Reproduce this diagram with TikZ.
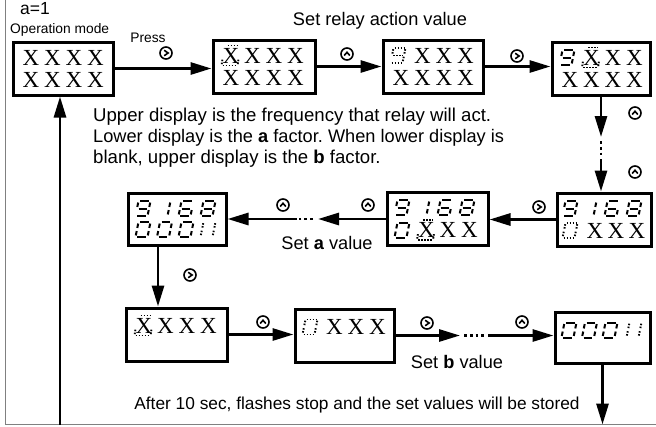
\documentclass[tikz,border=0pt]{standalone}
\usepackage{fontspec}
\setmainfont{Liberation Sans}
\newfontfamily\serifX{Liberation Serif}
\usetikzlibrary{arrows.meta}
\frenchspacing
\newcount\xn
\newcommand\Xc[2]{\global\advance\xn by 1\relax
  \node[xch] (xc\the\xn) at (#1,#2) {X};}
% seven segment digit: x, y, style, list macro of corner pairs
\newcommand\sevseg[4]{%
\begin{scope}[shift={(#1,#2)},xslant=0.2]
\coordinate (q1) at (-6,-7.5);\coordinate (q2) at (6,-7.5);
\coordinate (q3) at (-6,0);\coordinate (q4) at (6,0);
\coordinate (q5) at (-6,7.5);\coordinate (q6) at (6,7.5);
\foreach \u/\v in #4 {\draw[#3] (q\u) -- (q\v);}
\end{scope}}
\def\dZero{1/2,2/4,4/6,5/6,3/5,1/3}
\def\dOne{2/4,4/6}
\def\dSix{1/2,1/3,3/4,3/5,5/6,4/6}
\def\dEight{1/2,2/4,4/6,5/6,3/5,1/3,3/4}
\def\dNine{1/2,2/4,4/6,5/6,1/3,3/4}
\def\dFOne{1/3,3/5,2/4,4/6}
\def\dFX{1/2,3/5,4/6,5/6}
\newcommand\FXc[2]{%
\begin{scope}[shift={(#1,#2)},xslant=0.15]
\coordinate (p1) at (-6,-10);\coordinate (p2) at (6,-10);
\coordinate (p3) at (-8,3);\coordinate (p4) at (8,3);
\coordinate (p5) at (-8,10);\coordinate (p6) at (8,10);
\foreach \u/\v in \dFX {\draw[fseg] (p\u) -- (p\v);}
\end{scope}
\Xc{#1}{#2}}
\begin{document}
\begin{tikzpicture}[x=1pt,y=-1pt,
  dbox/.style={draw,line width=3pt,minimum height=53pt,inner sep=0pt},
  arr/.style={line width=2.9pt,-{Triangle[length=21pt,width=12pt]}},
  dotl/.style={line width=2.9pt,dash pattern=on 2.8pt off 3pt},
  seg/.style={line width=2pt,shorten <=1.6pt,shorten >=1.6pt},
  fseg/.style={line width=1.9pt,dash pattern=on 1.5pt off 1.5pt,shorten <=1.2pt,shorten >=1.2pt},
  xch/.style={font=\serifX\fontsize{23}{23}\selectfont,inner sep=0pt},
  lbl/.style={font=\fontsize{18.2}{21}\selectfont,inner sep=0pt},
  par/.style={font=\fontsize{18.6}{21}\selectfont,inner sep=0pt},
  sml/.style={font=\fontsize{13.8}{14}\selectfont,inner sep=0pt},
  btn/.style={circle,draw,line width=1.6pt,minimum size=12pt,inner sep=0pt},
  btnR/.style={btn,path picture={\draw[line width=1.6pt]
    ([xshift=-1.8pt,yshift=2.7pt]path picture bounding box.center) --
    ([xshift=2.1pt]path picture bounding box.center) --
    ([xshift=-1.8pt,yshift=-2.7pt]path picture bounding box.center);}},
  btnU/.style={btn,path picture={\draw[line width=1.6pt]
    ([xshift=-2.8pt,yshift=-1.5pt]path picture bounding box.center) --
    ([yshift=1.7pt]path picture bounding box.center) --
    ([xshift=2.8pt,yshift=-1.5pt]path picture bounding box.center);}}
]
\useasboundingbox (0,0) rectangle (656,426);
% frame
\draw[gray,line width=0.9pt] (5.5,0) -- (5.5,424.5) -- (656,424.5);

% boxes
\node[dbox,minimum width=100pt] (b1) at (63,68.5) {};
\node[dbox,minimum width=102pt] (b2) at (264,66.5) {};
\node[dbox,minimum width=100pt] (b3) at (433,66.5) {};
\node[dbox,minimum width=98pt] (b4) at (601,68.5) {};
\node[dbox,minimum width=94pt] (b5) at (604,219.5) {};
\node[dbox,minimum width=101pt] (b6) at (437.5,219) {};
\node[dbox,minimum width=98pt,minimum height=52pt] (b7) at (177,219) {};
\node[dbox,minimum width=101pt] (b8) at (176.5,334.5) {};
\node[dbox,minimum width=99pt] (b9) at (344.5,335.5) {};
\node[dbox,minimum width=95pt,minimum height=51pt] (b10) at (602.5,337.5) {};

% box 1
\begin{scope}[shift={(13,42)}]
\Xc{18}{15.5}\Xc{39.5}{15.5}\Xc{61}{15.5}\Xc{82.5}{15.5}
\Xc{18}{37.5}\Xc{39.5}{37.5}\Xc{61}{37.5}\Xc{82.5}{37.5}
\end{scope}
% box 2
\begin{scope}[shift={(213,40)}]
\FXc{18}{15.5}\Xc{39.5}{15.5}\Xc{61}{15.5}\Xc{82.5}{15.5}
\Xc{18}{37.5}\Xc{39.5}{37.5}\Xc{61}{37.5}\Xc{82.5}{37.5}
\end{scope}
% box 3
\begin{scope}[shift={(383,40)}]
\sevseg{15}{15.5}{fseg}{\dNine}
\Xc{39.5}{15.5}\Xc{61}{15.5}\Xc{82.5}{15.5}
\Xc{18}{37.5}\Xc{39.5}{37.5}\Xc{61}{37.5}\Xc{82.5}{37.5}
\end{scope}
% box 4
\begin{scope}[shift={(552,42)}]
\sevseg{15}{15.5}{seg}{\dNine}
\FXc{39.5}{15.5}\Xc{61}{15.5}\Xc{82.5}{15.5}
\Xc{18}{37.5}\Xc{39.5}{37.5}\Xc{61}{37.5}\Xc{82.5}{37.5}
\end{scope}
% box 5
\begin{scope}[shift={(557,193)}]
\sevseg{13}{15.5}{seg}{\dNine}\sevseg{32}{15.5}{seg}{\dOne}
\sevseg{55}{15.5}{seg}{\dSix}\sevseg{77}{15.5}{seg}{\dEight}
\sevseg{13}{37.5}{fseg}{\dZero}
\Xc{38}{37.5}\Xc{59}{37.5}\Xc{80}{37.5}
\end{scope}
% box 6
\begin{scope}[shift={(387,192)}]
\sevseg{15}{15.5}{seg}{\dNine}\sevseg{35}{15.5}{seg}{\dOne}
\sevseg{58}{15.5}{seg}{\dSix}\sevseg{80}{15.5}{seg}{\dEight}
\sevseg{15}{38}{seg}{\dZero}
\FXc{39.5}{38}\Xc{61}{38}\Xc{82.5}{38}
\end{scope}
% box 7
\begin{scope}[shift={(128,193)}]
\sevseg{15}{15.5}{seg}{\dNine}\sevseg{35}{15.5}{seg}{\dOne}
\sevseg{58}{15.5}{seg}{\dSix}\sevseg{80}{15.5}{seg}{\dEight}
\sevseg{15}{36.5}{seg}{\dZero}\sevseg{36.5}{36.5}{seg}{\dZero}
\sevseg{58}{36.5}{seg}{\dZero}
\sevseg{80}{36.5}{fseg}{\dFOne}
\end{scope}
% box 8
\begin{scope}[shift={(126,308)}]
\FXc{18}{17.5}\Xc{39.5}{17.5}\Xc{61}{17.5}\Xc{82.5}{17.5}
\end{scope}
% box 9
\begin{scope}[shift={(295,309)}]
\sevseg{15}{18}{fseg}{\dZero}
\Xc{39.5}{18}\Xc{61}{18}\Xc{82.5}{18}
\end{scope}
% box 10
\begin{scope}[shift={(555,312)}]
\sevseg{14}{18}{seg}{\dZero}\sevseg{34.5}{18}{seg}{\dZero}
\sevseg{55}{18}{seg}{\dZero}
\sevseg{79}{18}{fseg}{\dFOne}
\end{scope}

% connectors
\coordinate (m1) at (601,137);
\coordinate (m2) at (601,159);
\coordinate (m3) at (318,219);
\coordinate (m4) at (297,219);
\coordinate (m5) at (460,335.5);
\coordinate (m6) at (488,335.5);
\coordinate (c7) at (158,0);
\coordinate (e10) at (602.5,424.5);
\coordinate (r0) at (60,424.5);

\draw[arr] (b1.east) -- (b1.east -| b2.west);
\draw[arr] (b2.east) -- (b2.east -| b3.west);
\draw[arr] (b3.east) -- (b3.east -| b4.west);
\draw[arr] (b4.south -| m1) -- (m1);
\draw[dotl] (601,141) -- (601,156);
\draw[arr] (m2) -- (m2 |- b5.north);
\draw[arr] (b5.west) -- (b5.west -| b6.east);
\draw[arr] (b6.west |- m3) -- (m3);
\draw[dotl] (313,219) -- (298,219);
\draw[arr] (m4) -- (m4 -| b7.east);
\draw[arr] (b7.south -| c7) -- (b8.north -| c7);
\draw[arr] (b8.east) -- (b8.east -| b9.west);
\draw[arr] (b9.east) -- (m5);
\draw[dotl] (464,335.5) -- (485,335.5);
\draw[arr] (m6) -- (m6 -| b10.west);
\draw[arr] (b10.south) -- (e10);
\draw[arr] (r0) -- (r0 |- b1.south);

% buttons
\node[btnR] (k1) at (166,53) {};
\node[btnU] (k2) at (347,54) {};
\node[btnR] (k3) at (517,56) {};
\node[btnU] (k4) at (635,113) {};
\node[btnU] (k5) at (635,172) {};
\node[btnR] (k6) at (539,207) {};
\node[btnU] (k7) at (368,205) {};
\node[btnU] (k8) at (283,205) {};
\node[btnR] (k9) at (190,275) {};
\node[btnU] (k10) at (263,322) {};
\node[btnR] (k11) at (427,323) {};
\node[btnU] (k12) at (522,322) {};

% texts
\node[anchor=base west,font=\fontsize{17.5}{17}\selectfont,inner sep=0pt] (ta) at (20,14) {a=1};
\node[anchor=base west,sml] (tom) at (10,33) {Operation mode};
\node[anchor=base,sml] (tpr) at (148,42) {Press};
\node[anchor=base,lbl] (tsr) at (380,25) {Set relay action value};
\node[anchor=base west,par] (tp1) at (93,121.7) {Upper display is the frequency that relay will act.};
\node[anchor=base west,lbl] (tp2) at (93,142.7) {Lower display is the \textbf{a} factor. When lower display is};
\node[anchor=base west,par] (tp3) at (93,163.5) {blank, upper display is the \textbf{b} factor.};
\node[anchor=base,lbl] (tsa) at (327,249) {Set \textbf{a} value};
\node[anchor=base,lbl] (tsb) at (457,368) {Set \textbf{b} value};
\node[anchor=base,font=\fontsize{17.3}{20}\selectfont,inner sep=0pt] (taf) at (357,409) {After 10 sec, flashes stop and the set values will be stored};
\end{tikzpicture}
\end{document}
